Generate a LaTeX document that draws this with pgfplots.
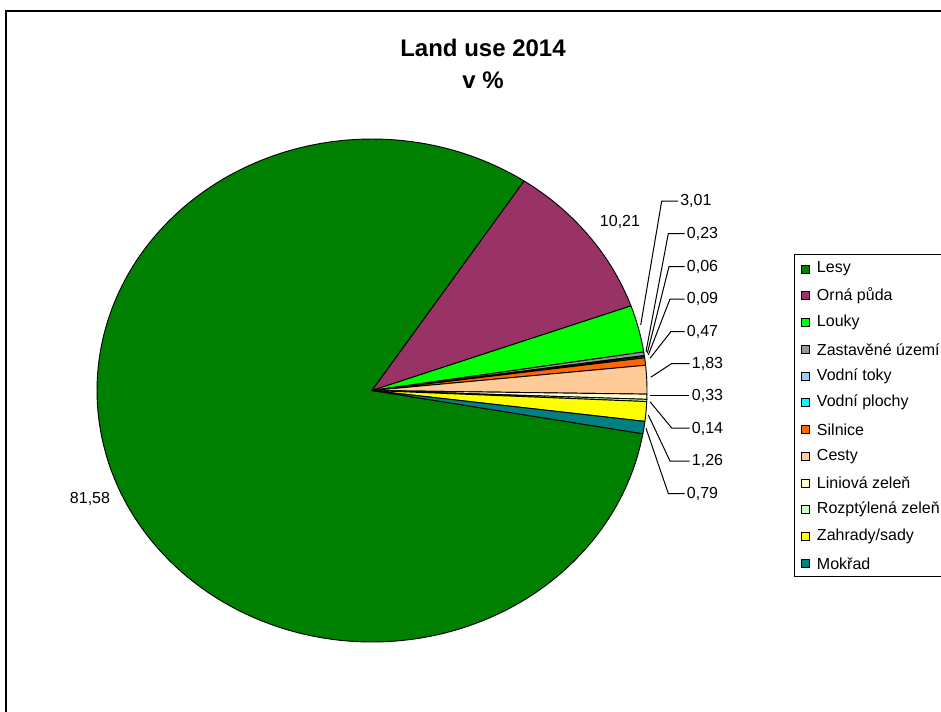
\documentclass[border=0pt]{standalone}
\usepackage{pgfplots}
\pgfplotsset{compat=1.18}
\usepackage{fontspec}
\setmainfont{Liberation Sans}

\definecolor{cLesy}{RGB}{0,128,0}
\definecolor{cOrna}{RGB}{153,51,102}
\definecolor{cLouky}{RGB}{0,255,0}
\definecolor{cZast}{RGB}{150,150,150}
\definecolor{cToky}{RGB}{153,204,255}
\definecolor{cPlochy}{RGB}{0,255,255}
\definecolor{cSilnice}{RGB}{255,102,0}
\definecolor{cCesty}{RGB}{255,204,153}
\definecolor{cLin}{RGB}{255,255,204}
\definecolor{cRozp}{RGB}{204,255,204}
\definecolor{cZahr}{RGB}{255,255,0}
\definecolor{cMok}{RGB}{0,128,128}

% pie geometry in pixel units
\newcommand\pcx{372}
\newcommand\pcy{390.5}
\newcommand\prx{275}
\newcommand\pry{251.5}
\gdef\angA{-9.9}
% #1 colour, #2 value (percent), #3 samples
\newcommand\slice[3]{%
  \pgfmathsetmacro\angB{\angA-3.6*#2}%
  \edef\doslice{\noexpand\addplot[fill=#1,draw=black,line width=0.7pt,line join=round,domain=\angB:\angA,samples=#3,variable=\noexpand\t]
    ({\pcx+\prx*cos(\noexpand\t)},{\pcy-\pry*sin(\noexpand\t)}) -- (axis cs:\pcx,\pcy) -- cycle;}%
  \doslice
  \global\let\angA\angB}

\newcommand\lbl{\fontsize{12}{14}\selectfont}
\newcommand\leg{\fontsize{12}{14}\selectfont}

\begin{document}
\begin{tikzpicture}
\begin{axis}[at={(0,0)}, anchor=south west, scale only axis,
  width=705.75pt, height=533.25pt,
  xmin=0, xmax=941, ymin=0, ymax=711, y dir=reverse,
  hide axis, clip=false]

% frame
\draw[black, line width=0.9pt] (axis cs:6,11) rectangle (axis cs:960,725);

% pie slices (values in %)
\slice{cLesy}{81.58}{200}
\slice{cOrna}{10.21}{40}
\slice{cLouky}{3.01}{15}
\slice{cZast}{0.23}{4}
\slice{cToky}{0.06}{3}
\slice{cPlochy}{0.09}{3}
\slice{cSilnice}{0.47}{4}
\slice{cCesty}{1.83}{10}
\slice{cLin}{0.33}{4}
\slice{cRozp}{0.14}{3}
\slice{cZahr}{1.26}{8}
\slice{cMok}{0.79}{5}

% title
\node[font=\fontsize{18}{21}\selectfont\bfseries, align=center] at (axis cs:483,47.7) {Land use 2014};
\node[font=\fontsize{18}{21}\selectfont\bfseries, align=center] at (axis cs:483,80) {v \%};

% leader lines
\draw[black, line width=0.75pt] (axis cs:640.7,325) -- (axis cs:661.7,201) -- (axis cs:678,201);
\draw[black, line width=0.75pt] (axis cs:646,351.7) -- (axis cs:668.3,233.5) -- (axis cs:684.5,233.5);
\draw[black, line width=0.75pt] (axis cs:647.3,353.3) -- (axis cs:669,266.5) -- (axis cs:684.5,266.5);
\draw[black, line width=0.75pt] (axis cs:648.3,355) -- (axis cs:670,299) -- (axis cs:684.5,299);
\draw[black, line width=0.75pt] (axis cs:650,358.3) -- (axis cs:671,331.5) -- (axis cs:684.5,331.5);
\draw[black, line width=0.75pt] (axis cs:650.7,377.3) -- (axis cs:671.7,363.5) -- (axis cs:689.5,363.5);
\draw[black, line width=0.75pt] (axis cs:650,395.7) -- (axis cs:688.5,395.7);
\draw[black, line width=0.75pt] (axis cs:650,401.7) -- (axis cs:671.7,428) -- (axis cs:689.5,428);
\draw[black, line width=0.75pt] (axis cs:648.3,415) -- (axis cs:670,461) -- (axis cs:689.5,461);
\draw[black, line width=0.75pt] (axis cs:646,428.3) -- (axis cs:668.3,493.5) -- (axis cs:684.5,493.5);

% data labels
\node[anchor=west, inner sep=0pt, font=\lbl] at (axis cs:680,201) {3,01};
\node[anchor=west, inner sep=0pt, font=\lbl] at (axis cs:686.7,233.5) {0,23};
\node[anchor=west, inner sep=0pt, font=\lbl] at (axis cs:686.7,266.5) {0,06};
\node[anchor=west, inner sep=0pt, font=\lbl] at (axis cs:686.7,299) {0,09};
\node[anchor=west, inner sep=0pt, font=\lbl] at (axis cs:686.7,331.5) {0,47};
\node[anchor=west, inner sep=0pt, font=\lbl] at (axis cs:691.7,363.5) {1,83};
\node[anchor=west, inner sep=0pt, font=\lbl] at (axis cs:691.7,396) {0,33};
\node[anchor=west, inner sep=0pt, font=\lbl] at (axis cs:691.7,428.5) {0,14};
\node[anchor=west, inner sep=0pt, font=\lbl] at (axis cs:691.7,461) {1,26};
\node[anchor=west, inner sep=0pt, font=\lbl] at (axis cs:686.7,493.5) {0,79};
\node[inner sep=0pt, font=\lbl] at (axis cs:620,222) {10,21};
\node[inner sep=0pt, font=\lbl] at (axis cs:90,499) {81,58};

% legend
\draw[black, line width=0.75pt, fill=white] (axis cs:794.3,254.3) rectangle (axis cs:965,576);
\draw[black, line width=0.6pt, fill=cLesy]    (axis cs:801,265) rectangle (axis cs:809,273);
\draw[black, line width=0.6pt, fill=cOrna]    (axis cs:801,291.75) rectangle (axis cs:809,299.75);
\draw[black, line width=0.6pt, fill=cLouky]   (axis cs:801,318.5) rectangle (axis cs:809,326.5);
\draw[black, line width=0.6pt, fill=cZast]    (axis cs:801,345.25) rectangle (axis cs:809,353.25);
\draw[black, line width=0.6pt, fill=cToky]    (axis cs:801,372) rectangle (axis cs:809,380);
\draw[black, line width=0.6pt, fill=cPlochy]  (axis cs:801,398.75) rectangle (axis cs:809,406.75);
\draw[black, line width=0.6pt, fill=cSilnice] (axis cs:801,425.5) rectangle (axis cs:809,433.5);
\draw[black, line width=0.6pt, fill=cCesty]   (axis cs:801,452.25) rectangle (axis cs:809,460.25);
\draw[black, line width=0.6pt, fill=cLin]     (axis cs:801,479) rectangle (axis cs:809,487);
\draw[black, line width=0.6pt, fill=cRozp]    (axis cs:801,505.75) rectangle (axis cs:809,513.75);
\draw[black, line width=0.6pt, fill=cZahr]    (axis cs:801,532.5) rectangle (axis cs:809,540.5);
\draw[black, line width=0.6pt, fill=cMok]     (axis cs:801,559.25) rectangle (axis cs:809,567.25);
\node[anchor=west, inner sep=0pt, font=\leg] at (axis cs:816.7,269) {Lesy};
\node[anchor=west, inner sep=0pt, font=\leg] at (axis cs:816.7,295.75) {Orná půda};
\node[anchor=west, inner sep=0pt, font=\leg] at (axis cs:816.7,322.5) {Louky};
\node[anchor=west, inner sep=0pt, font=\leg] at (axis cs:816.7,349.25) {Zastavěné území};
\node[anchor=west, inner sep=0pt, font=\leg] at (axis cs:816.7,376) {Vodní toky};
\node[anchor=west, inner sep=0pt, font=\leg] at (axis cs:816.7,402.75) {Vodní plochy};
\node[anchor=west, inner sep=0pt, font=\leg] at (axis cs:816.7,429.5) {Silnice};
\node[anchor=west, inner sep=0pt, font=\leg] at (axis cs:816.7,456.25) {Cesty};
\node[anchor=west, inner sep=0pt, font=\leg] at (axis cs:816.7,483) {Liniová zeleň};
\node[anchor=west, inner sep=0pt, font=\leg] at (axis cs:816.7,509.75) {Rozptýlená zeleň};
\node[anchor=west, inner sep=0pt, font=\leg] at (axis cs:816.7,536.5) {Zahrady/sady};
\node[anchor=west, inner sep=0pt, font=\leg] at (axis cs:816.7,563.25) {Mokřad};
\end{axis}
\pgfresetboundingbox
\path[use as bounding box] (0,0) rectangle (705.75pt,533.25pt);
\end{tikzpicture}
\end{document}
